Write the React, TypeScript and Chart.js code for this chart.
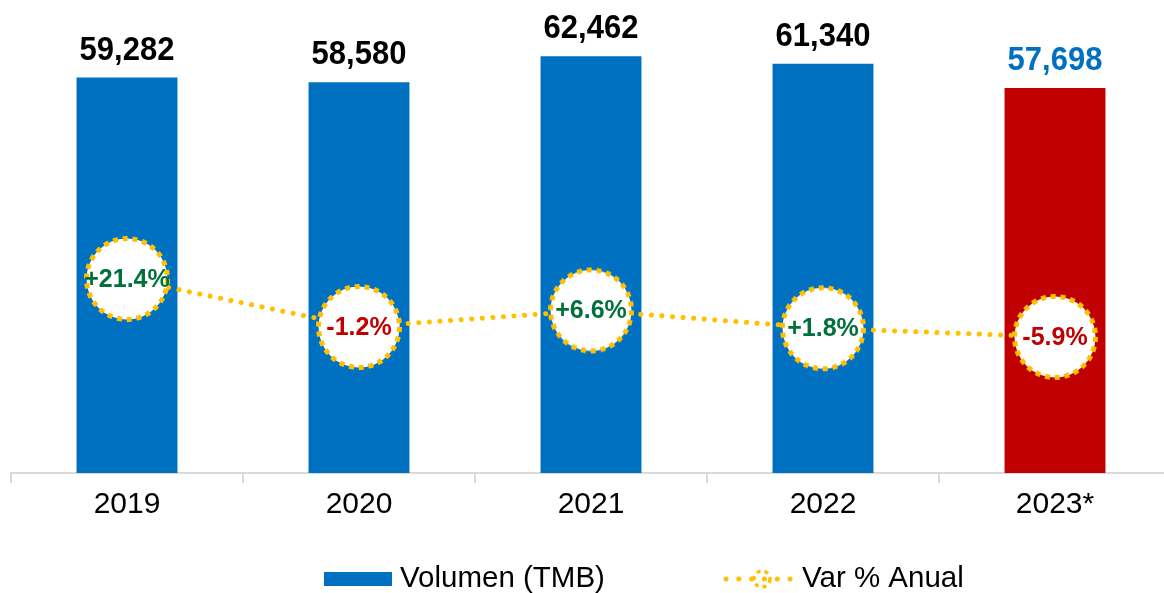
import React, { useEffect, useRef } from "react";
import { Chart, registerables } from "chart.js";

Chart.register(...registerables);

const years = ["2019", "2020", "2021", "2022", "2023*"];
const volumes = [59282, 58580, 62462, 61340, 57698];
const varPct = [21.4, -1.2, 6.6, -1.8, -5.9];
const varLabels = ["+21.4%", "-1.2%", "+6.6%", "+1.8%", "-5.9%"];
const barColors = ["#0070C0", "#0070C0", "#0070C0", "#0070C0", "#C00000"];
const valueLabelColors = ["#000000", "#000000", "#000000", "#000000", "#0070C0"];
const legendLabels = ["Volumen (TMB)", "Var % Anual"];

const FONT = "'Liberation Sans', Arial, sans-serif";
const GOLD = "#FFC000";
const GREEN = "#00703C";
const RED = "#C00000";

function makeCircle(size: number, r: number, lw: number, dash: number[]) {
  const c = document.createElement("canvas");
  c.width = size;
  c.height = size;
  const ctx = c.getContext("2d")!;
  ctx.beginPath();
  ctx.arc(size / 2, size / 2, r, 0, Math.PI * 2);
  ctx.fillStyle = "#ffffff";
  ctx.fill();
  ctx.setLineDash(dash);
  ctx.lineWidth = lw;
  ctx.strokeStyle = GOLD;
  ctx.stroke();
  return c;
}

export default function App() {
  const ref = useRef<HTMLCanvasElement | null>(null);

  useEffect(() => {
    document.body.style.overflow = "hidden";
    const circle = makeCircle(96, 40.5, 5, [5, 4.8]);

    const labelsPlugin = {
      id: "labelsPlugin",
      afterDatasetsDraw(chart: any) {
        const ctx = chart.ctx;
        const barMeta = chart.getDatasetMeta(0);
        const lineMeta = chart.getDatasetMeta(1);
        ctx.save();
        ctx.textAlign = "center";
        ctx.textBaseline = "alphabetic";
        ctx.font = `bold 31px ${FONT}`;
        barMeta.data.forEach((bar: any, i: number) => {
          ctx.fillStyle = valueLabelColors[i];
          ctx.save();
          ctx.translate(bar.x, bar.y - 18);
          ctx.scale(1, 1.06);
          ctx.fillText(volumes[i].toLocaleString("en-US"), 0, 0);
          ctx.restore();
        });
        ctx.font = `bold 25px ${FONT}`;
        ctx.textBaseline = "middle";
        lineMeta.data.forEach((pt: any, i: number) => {
          ctx.fillStyle = varLabels[i].startsWith("-") ? RED : GREEN;
          ctx.fillText(varLabels[i], pt.x, pt.y + 1);
        });
        ctx.restore();
      },
      afterDraw(chart: any) {
        const ctx = chart.ctx;
        const cx = 586;
        const y = 579;
        ctx.save();
        // bar legend
        ctx.fillStyle = "#0070C0";
        ctx.fillRect(cx - 262, y - 7, 68, 14);
        ctx.fillStyle = "#000";
        ctx.textBaseline = "alphabetic";
        ctx.textAlign = "left";
        ctx.font = `29.5px ${FONT}`;
        ctx.fillText(legendLabels[0], cx - 186, y + 8);
        // line legend
        ctx.strokeStyle = GOLD;
        ctx.lineWidth = 5;
        ctx.lineCap = "round";
        ctx.setLineDash([0.1, 12.7]);
        ctx.beginPath();
        ctx.moveTo(cx + 140, y);
        ctx.lineTo(cx + 206, y);
        ctx.stroke();
        ctx.lineCap = "butt";
        ctx.setLineDash([4, 4]);
        ctx.lineWidth = 3.5;
        ctx.beginPath();
        ctx.arc(cx + 176, y, 8, 0, Math.PI * 2);
        ctx.stroke();
        ctx.setLineDash([]);
        ctx.fillText(legendLabels[1], cx + 216, y + 8);
        ctx.restore();
      },
    };

    const chart = new Chart(ref.current!, {
      type: "bar",
      data: {
        labels: years,
        datasets: [
          {
            type: "bar",
            label: legendLabels[0],
            data: volumes,
            backgroundColor: barColors,
            barPercentage: 0.435,
            categoryPercentage: 1,
            yAxisID: "y",
            order: 1,
          },
          {
            type: "line",
            label: legendLabels[1],
            data: varPct,
            yAxisID: "y2",
            borderColor: GOLD,
            borderWidth: 5,
            borderDash: [0.1, 10.5],
            borderCapStyle: "round",
            pointStyle: circle as any,
            pointRadius: 42,
            fill: false,
            tension: 0,
            clip: false,
            order: 0,
          } as any,
        ],
      },
      options: {
        animation: false,
        responsive: true,
        maintainAspectRatio: false,
        layout: { autoPadding: false, padding: { left: 11, right: 1, top: 6, bottom: 0 } },
        plugins: {
          legend: { display: false },
          tooltip: { enabled: false },
        },
        scales: {
          x: {
            grid: {
              display: true,
              offset: true,
              drawOnChartArea: false,
              drawTicks: true,
              tickLength: 10,
              color: "#D9D9D9",
              lineWidth: 2,
            },
            border: { display: true, color: "#D9D9D9", width: 2 },
            ticks: {
              color: "#000",
              font: { family: FONT, size: 30 },
              padding: 4,
            },
            afterFit: (scale: any) => {
              scale.height = 120;
            },
          },
          y: { display: false, min: 0, max: 70000 },
          y2: { display: false, min: -70, max: 150 },
        },
      },
      plugins: [labelsPlugin],
    } as any);
    return () => chart.destroy();
  }, []);

  return (
    <div style={{ position: "fixed", left: 0, top: 0, width: 1172, height: 593 }}>
      <canvas ref={ref} />
    </div>
  );
}
